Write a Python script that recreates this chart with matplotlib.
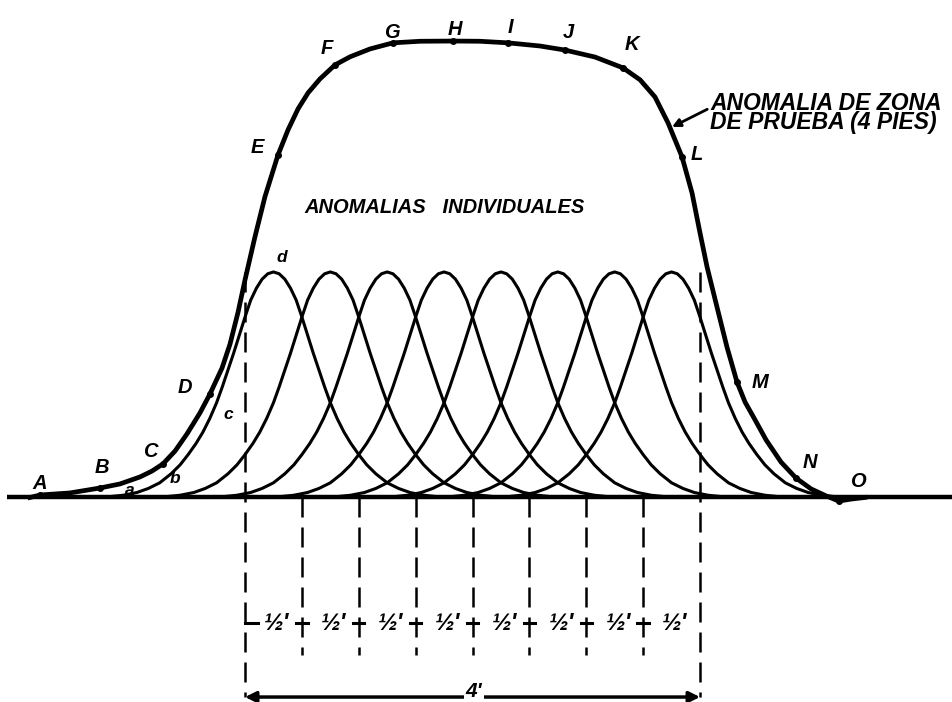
import numpy as np
import matplotlib
matplotlib.use("Agg")
import matplotlib.pyplot as plt

# x in feet (0 = left edge of the 4 ft test zone), y in units of one single anomaly peak
# -----------------------------------------------------------------------------
peak_centres = [0.25, 0.75, 1.25, 1.75, 2.25, 2.75, 3.25, 3.75]

# one side of a single anomaly
prof_off = [0.00, 0.05, 0.10, 0.15, 0.20, 0.25, 0.30, 0.35, 0.40, 0.45, 0.50,
            0.56, 0.62, 0.68, 0.75, 0.82, 0.90, 1.00, 1.10, 1.20, 1.32, 1.45, 1.60]
prof_amp = [1.000, 0.992, 0.968, 0.928, 0.875, 0.800, 0.720, 0.640, 0.565, 0.490, 0.420,
            0.350, 0.290, 0.240, 0.190, 0.145, 0.105, 0.065, 0.040, 0.022, 0.010, 0.003, 0.000]

# test-zone anomaly (thick curve)
total_x = [-1.89, -1.80, -1.54, -1.275, -1.099, -0.923, -0.818, -0.721, -0.615,
           -0.510, -0.396, -0.308, -0.202, -0.132, -0.062, 0.0, 0.088, 0.176,
           0.290, 0.378, 0.466, 0.554, 0.659, 0.791, 0.923, 1.099, 1.301, 1.538,
           1.829, 2.066, 2.312, 2.593, 2.813, 3.077, 3.323, 3.473, 3.604, 3.719,
           3.842, 3.930, 4.0, 4.062, 4.149, 4.237, 4.325, 4.396, 4.484, 4.581,
           4.712, 4.844, 4.976, 5.108, 5.22, 5.33, 5.45]
total_y = [0.0, 0.011, 0.020, 0.042, 0.060, 0.091, 0.117, 0.149, 0.206,
           0.282, 0.375, 0.459, 0.574, 0.680, 0.820, 0.965, 1.157, 1.335,
           1.519, 1.630, 1.723, 1.794, 1.856, 1.918, 1.954, 1.989, 2.016, 2.023,
           2.024, 2.023, 2.016, 2.002, 1.984, 1.953, 1.905, 1.852, 1.776, 1.661,
           1.510, 1.350, 1.173, 1.022, 0.845, 0.667, 0.512, 0.423, 0.344, 0.255,
           0.157, 0.086, 0.038, 0.007, -0.016, -0.007, 0.0]

big_labels = ["A", "B", "C", "D", "E", "F", "G", "H", "I", "J", "K", "L", "M", "N", "O"]
big_lab_x = [-1.802, -1.257, -0.835, -0.527, 0.105, 0.721, 1.292, 1.846, 2.330,
             2.840, 3.402, 3.974, 4.527, 4.967, 5.389]
big_lab_y = [0.064, 0.135, 0.202, 0.486, 1.550, 1.993, 2.060, 2.073, 2.082,
             2.064, 2.007, 1.519, 0.508, 0.153, 0.073]
big_pt_x = [-1.80, -1.275, -0.721, -0.308, 0.290, 0.791, 1.301, 1.829, 2.312,
            2.813, 3.323, 3.842, 4.325, 4.844, 5.22]

small_labels = ["a", "b", "c", "d"]
small_lab_x = [-1.011, -0.615, -0.149, 0.325]
small_lab_y = [0.033, 0.086, 0.366, 1.062]

zone_lines = [0.0, 0.5, 1.0, 1.5, 2.0, 2.5, 3.0, 3.5, 4.0]
half_labels = ["½'"] * 8
# -----------------------------------------------------------------------------

plt.rcParams['font.family'] = ['Liberation Sans', 'DejaVu Sans']

fig = plt.figure(figsize=(9.53, 7.02), dpi=100)
ax = fig.add_axes([0, 0, 1, 1])
ax.set_xlim(-2.154, 6.224)
ax.set_ylim(-0.907, 2.206)
ax.axis("off")

off = np.array(prof_off)
amp = np.array(prof_amp)
shape_x = np.concatenate([-off[::-1], off[1:]])
shape_y = np.concatenate([amp[::-1], amp[1:]])

# baseline
ax.plot([-2.09, 6.3], [0, 0], color="black", lw=3.2, solid_capstyle="butt")

# individual anomalies
for c in peak_centres:
    ax.plot(c + shape_x, shape_y, color="black", lw=2.2, solid_joinstyle="round")

# total anomaly
ax.plot(total_x, total_y, color="black", lw=3.4, solid_joinstyle="round")
ax.plot(big_pt_x, np.interp(big_pt_x, total_x, total_y), "o", color="black", ms=4)

bold = dict(fontweight="bold", fontstyle="italic", color="black")
for s, x, y in zip(big_labels, big_lab_x, big_lab_y):
    ax.text(x, y, s, fontsize=14.5, ha="center", va="center", **bold)
for s, x, y in zip(small_labels, small_lab_x, small_lab_y):
    ax.text(x, y, s, fontsize=12.5, ha="center", va="center", **bold)

# dashed lines of the zone
for i, x in enumerate(zone_lines):
    if i == 0 or i == len(zone_lines) - 1:
        ax.plot([x, x], [1.0, -0.885], color="black", lw=1.8, dashes=(8, 4))
    else:
        ax.plot([x, x], [0, -0.70], color="black", lw=1.8, dashes=(8, 4))
        ax.plot([x - 0.05, x + 0.05], [-0.557, -0.557], color="black", lw=2.2)
ax.plot([0, 0.11], [-0.557, -0.557], color="black", lw=2.2)

for i, s in enumerate(half_labels):
    xm = (zone_lines[i] + zone_lines[i + 1]) / 2 + 0.03
    ax.text(xm, -0.557, s, fontsize=17, ha="center", va="center", **bold)

# 4 ft arrow
ax.annotate("", xy=(0, -0.885), xytext=(4.0, -0.885),
            arrowprops=dict(arrowstyle="<|-|>", color="black", lw=2.5,
                            shrinkA=0, shrinkB=0, mutation_scale=16))
ax.text(2.013, -0.86, "4'", fontsize=15, ha="center", va="center",
        bbox=dict(facecolor="white", edgecolor="none", pad=1), **bold)

ax.text(1.758, 1.288, "ANOMALIAS   INDIVIDUALES", fontsize=14.5, ha="center",
        va="center", **bold)

ax.annotate("ANOMALIA DE ZONA\nDE PRUEBA (4 PIES)", xy=(3.754, 1.643),
            xytext=(4.088, 1.705), fontsize=16.5, ha="left", va="center",
            linespacing=0.8,
            arrowprops=dict(arrowstyle="-|>", color="black", lw=2,
                            shrinkA=0, shrinkB=0, mutation_scale=12,
                            relpos=(0, 0.62)),
            **bold)

fig.savefig("out.png", dpi=100)
